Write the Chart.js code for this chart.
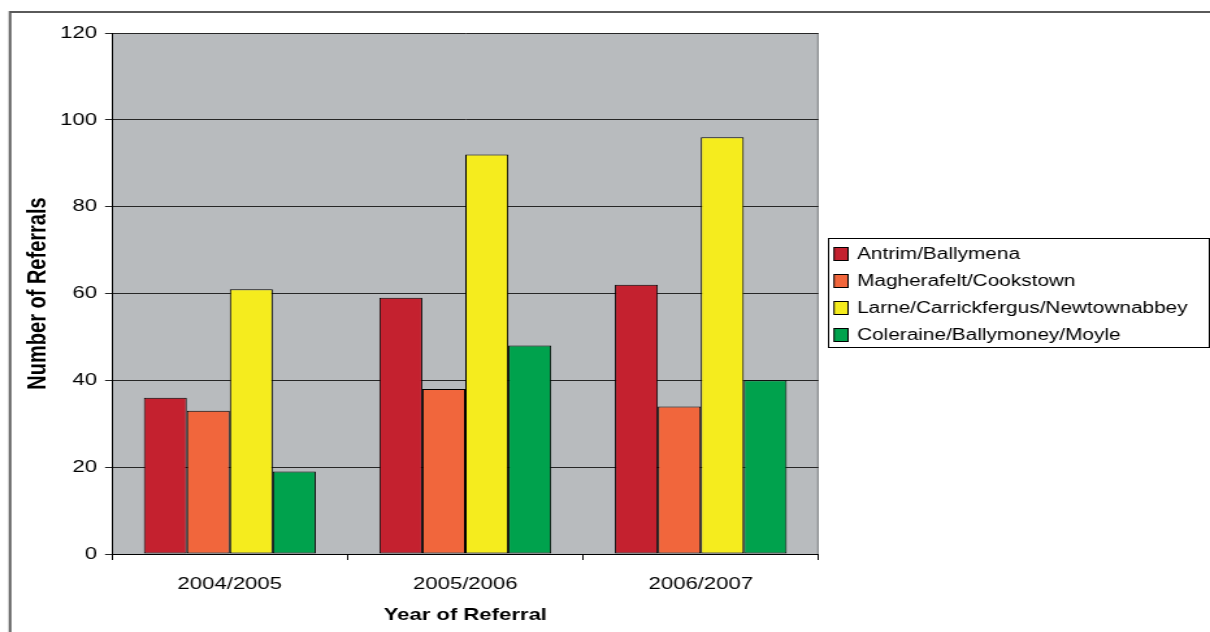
<!DOCTYPE html>
<html>
<head>
<meta charset="utf-8">
<title>Referrals by Year</title>
<script src="https://cdn.jsdelivr.net/npm/chart.js@4/dist/chart.umd.min.js"></script>
<style>
  html, body { margin: 0; padding: 0; background: #fff; overflow: hidden; }
  /* the chart is laid out narrow and stretched sideways, wide lettering included */
  #wrap { width: 931px; height: 632px; transform: scaleX(1.2997); transform-origin: 0 0; }
</style>
</head>
<body>
<div id="wrap"><canvas id="myChart" width="931" height="632" style="width:931px;height:632px"></canvas></div>
<script>
// data
const years = ["2004/2005", "2005/2006", "2006/2007"];
const areas = [
  "Antrim/Ballymena",
  "Magherafelt/Cookstown",
  "Larne/Carrickfergus/Newtownabbey",
  "Coleraine/Ballymoney/Moyle",
];
const antrimValues = [36, 59, 62];
const magherafeltValues = [33, 38, 34];
const larneValues = [61, 92, 96];
const coleraineValues = [19, 48, 40];
const yTicks = [0, 20, 40, 60, 80, 100, 120];

const colours = ["#c4212f", "#f1663c", "#f5ec1e", "#00a24d"];
const seriesValues = [antrimValues, magherafeltValues, larneValues, coleraineValues];

const FONT = "'Liberation Sans', Arial, sans-serif";
Chart.defaults.font.family = FONT;
Chart.defaults.color = "#000";

// grey plot background and frames
const backdrop = {
  id: "backdrop",
  beforeDraw(chart) {
    const { ctx, chartArea: a } = chart;
    ctx.save();
    ctx.fillStyle = "#b8bbbe";
    ctx.fillRect(a.left, a.top, a.right - a.left, a.bottom - a.top);
    ctx.strokeStyle = "#7a7d80";
    ctx.lineWidth = 1;
    ctx.beginPath();
    ctx.moveTo(a.right - 0.5, a.top);
    ctx.lineTo(a.right - 0.5, a.bottom);
    ctx.stroke();
    // outer frame
    ctx.strokeStyle = "#5a5a5a";
    ctx.lineWidth = 2;
    ctx.beginPath();
    ctx.moveTo(7.7, 640);
    ctx.lineTo(7.7, 12);
    ctx.lineTo(940, 12);
    ctx.stroke();
    ctx.restore();
  },
};

// boxed legend on the right
const boxLegend = {
  id: "boxLegend",
  afterDraw(chart) {
    const { ctx } = chart;
    const x = 637.5, y = 238.5, w = 293, h = 109;
    ctx.save();
    ctx.fillStyle = "#fff";
    ctx.fillRect(x, y, w, h);
    ctx.strokeStyle = "#000";
    ctx.lineWidth = 1;
    ctx.strokeRect(x, y, w, h);
    ctx.font = "16px " + FONT;
    ctx.textBaseline = "middle";
    chart.data.datasets.forEach((ds, i) => {
      const cy = 254 + i * 27;
      ctx.fillStyle = ds.backgroundColor;
      ctx.fillRect(641.7, cy - 7, 10.8, 14);
      ctx.strokeStyle = "#000";
      ctx.strokeRect(641.7, cy - 6.5, 10.8, 13);
      ctx.fillStyle = "#000";
      ctx.fillText(ds.label, 659.4, cy + 1);
    });
    ctx.restore();
  },
};

const data = {
  labels: years,
  datasets: areas.map((name, i) => ({
    label: name,
    data: seriesValues[i],
    backgroundColor: colours[i],
    borderColor: "#000",
    borderWidth: 1,
    borderSkipped: false,
    categoryPercentage: 0.73,
    barPercentage: 1.0,
  })),
};

const config = {
  type: "bar",
  data,
  options: {
    responsive: false,
    animation: false,
    devicePixelRatio: 1,
    layout: { padding: { left: 7.7, top: 33, right: 301.2, bottom: 0 } },
    plugins: {
      legend: { display: false },
      tooltip: { enabled: false },
    },
    scales: {
      x: {
        offset: true,
        grid: {
          offset: true,
          drawOnChartArea: false,
          color: "#000",
          tickLength: 6,
        },
        border: { color: "#000", width: 1 },
        ticks: { font: { size: 17 }, padding: 14, color: "#000" },
        title: {
          display: true,
          text: "Year of Referral",
          font: { size: 17, weight: "bold" },
          color: "#000",
          padding: { top: 6, bottom: 6 },
        },
        afterFit(scale) { scale.height = 78; },
      },
      y: {
        min: 0,
        max: 120,
        afterBuildTicks(scale) { scale.ticks = yTicks.map((v) => ({ value: v })); },
        grid: { color: "#262626", tickLength: 5.4 },
        border: { color: "#000", width: 1 },
        ticks: { font: { size: 17 }, padding: 6.2, color: "#000" },
        title: {
          display: true,
          text: "Number of Referrals",
          font: { size: 20, weight: "bold" },
          color: "#000",
          padding: { top: 9.5, bottom: 0 },
        },
        afterFit(scale) { scale.width = 78.5; },
      },
    },
  },
  plugins: [backdrop, boxLegend],
};

const myChart = new Chart(document.getElementById("myChart"), config);
</script>
</body>
</html>
